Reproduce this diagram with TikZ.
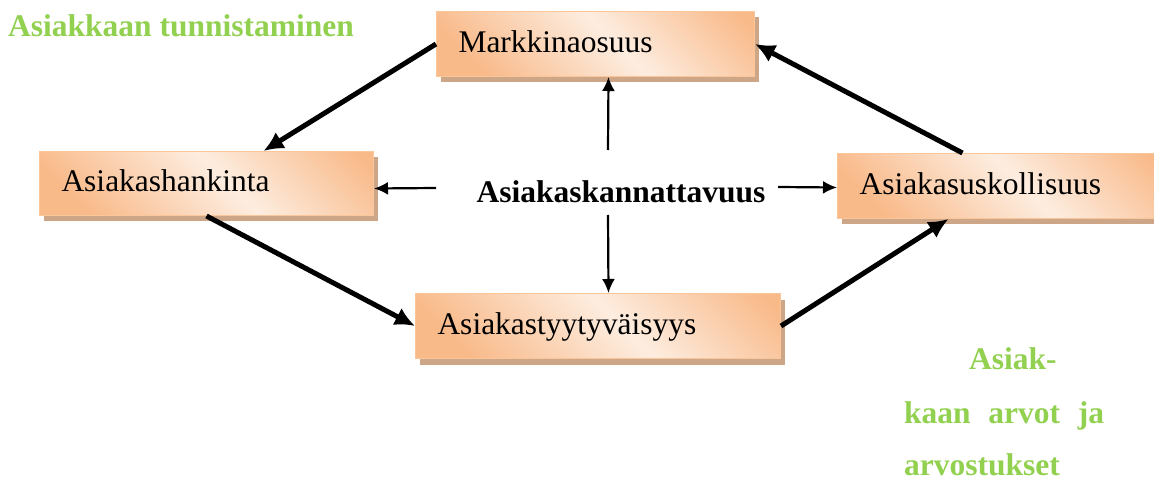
\documentclass[tikz,border=0pt]{standalone}
\usepackage{fontspec}
\setmainfont{Liberation Serif}
\usetikzlibrary{arrows.meta,shadows}

\definecolor{boxdark}{RGB}{249,186,138}
\definecolor{boxlight}{RGB}{253,237,224}
\definecolor{boxedge}{RGB}{250,198,154}
\definecolor{boxshadow}{RGB}{205,165,135}
\definecolor{leafgreen}{RGB}{146,208,80}

% peach gradient of the stage boxes: orange corners, pale diagonal band
\pgfdeclarehorizontalshading{peach}{100bp}{color(0bp)=(boxdark); color(24bp)=(boxdark); color(54bp)=(boxlight); color(82bp)=(boxdark); color(100bp)=(boxdark)}

\begin{document}
\begin{tikzpicture}[x=1pt,y=-1pt,
  font=\fontsize{31.5}{38}\selectfont,
  stage/.style={rectangle, draw=boxedge, line width=1pt, shading=peach,
    shading angle=45, inner xsep=22pt, inner ysep=0pt, align=left,
    text height=22pt, text depth=5pt, anchor=north west,
    drop shadow={shadow xshift=4pt, shadow yshift=-6pt, fill=boxshadow, opacity=1}},
  bigarrow/.style={line width=5pt, -{Latex[length=20pt,width=19pt]}},
  smallarrow/.style={line width=2.2pt, -{Latex[length=14pt,width=13pt]}},
  note/.style={text=leafgreen, inner sep=0pt, anchor=base west,
    font=\fontsize{31.5}{38}\selectfont\bfseries}]

\clip (0,0) rectangle (1154,481);

% the four stages of the cycle
\node[stage, text width=274pt, minimum height=65pt] (M)  at (436,11)  {Markkinaosuus};
\node[stage, text width=290pt, minimum height=64pt] (AH) at (39,151)  {Asiakashankinta};
\node[stage, text width=321pt, minimum height=65pt] (AT) at (415,293) {Asiakastyytyväisyys};
\node[stage, text width=284pt, minimum height=65pt] (AU) at (837,153) {Asiakasuskollisuus};

% centre
\node[inner sep=0pt, anchor=base, font=\fontsize{31.5}{38}\selectfont\bfseries] (C) at (621,203) {Asiakaskannattavuus};

% green side texts
\node[note] (T)  at (8,37)    {Asiakkaan tunnistaminen};
\node[note] (V1) at (969,369) {Asiak-};
\node[note] (V2) at (904,423) {\makebox[200pt][s]{kaan arvot ja}};
\node[note] (V3) at (904,475) {arvostukset};

% cycle
\draw[bigarrow] (M.west) -- ([xshift=57pt]AH.north);
\draw[bigarrow] (AH.south) -- (AT.west);
\draw[bigarrow] (AT.east) -- ([xshift=-53pt]AU.south);
\draw[bigarrow] ([xshift=-39pt]AU.north) -- (M.east);

% from the centre outwards
\draw[smallarrow] ([xshift=-13pt,yshift=53pt]C.base) -- ([xshift=13pt]M.south);
\draw[smallarrow] ([xshift=-13pt,yshift=-12pt]C.base) -- ([xshift=10.5pt]AT.north);
\draw[smallarrow] ([xshift=-185pt,yshift=15pt]C.base) -- ([yshift=-5pt]AH.east);
\draw[smallarrow] ([xshift=157pt,yshift=16pt]C.base) -- ([yshift=-1.5pt]AU.west);
\end{tikzpicture}
\end{document}
